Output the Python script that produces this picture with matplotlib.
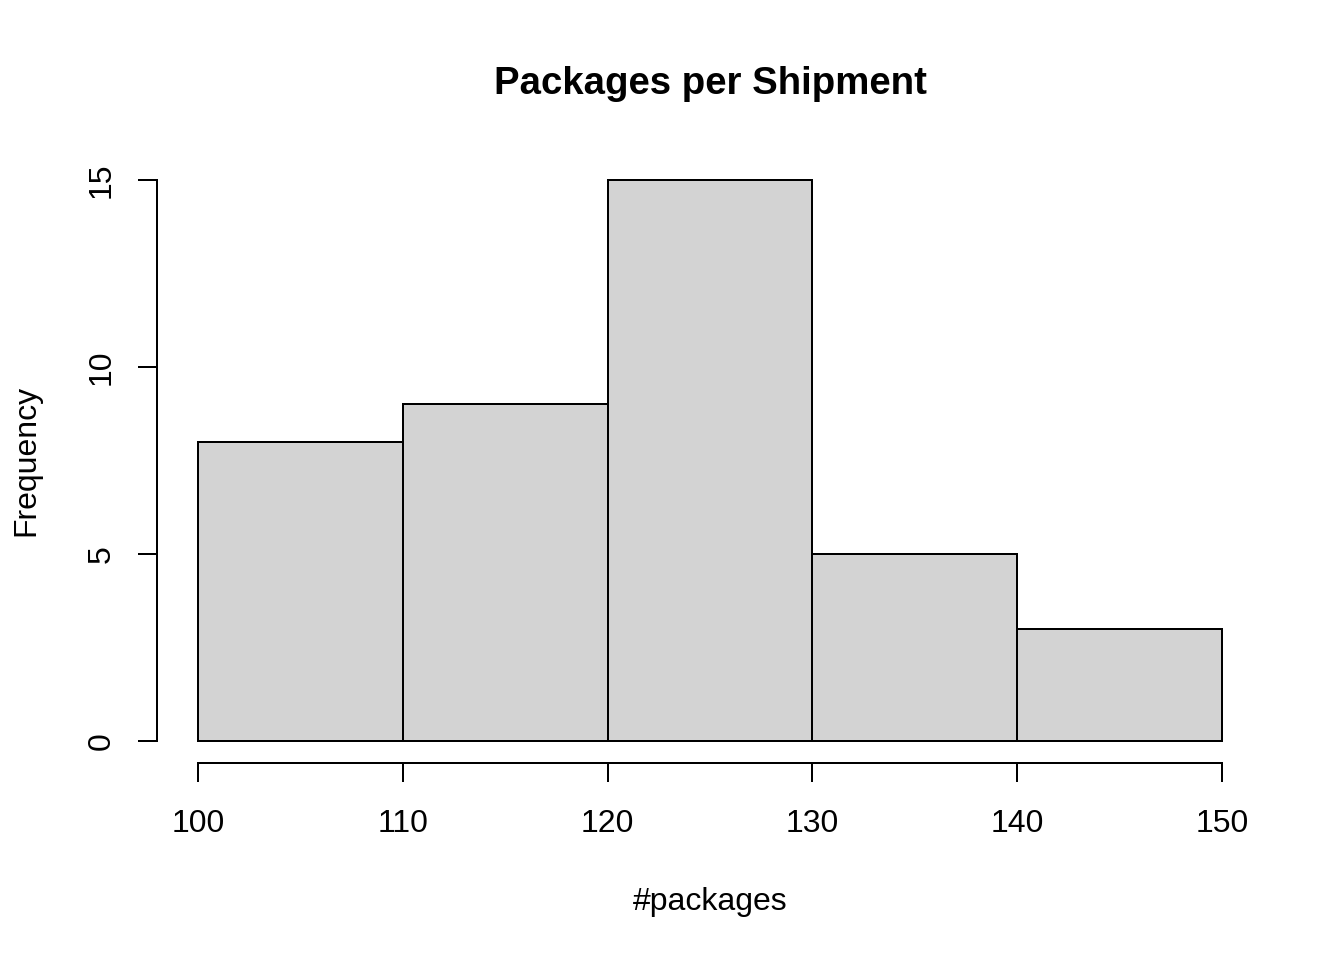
import matplotlib
matplotlib.use("Agg")
import numpy as np
import matplotlib.pyplot as plt

plt.rcParams['font.family'] = ['Liberation Sans', 'DejaVu Sans']

# Histogram data: bin edges and counts
bin_edges = [100, 110, 120, 130, 140, 150]
counts = [8, 9, 15, 5, 3]
x_ticks = [100, 110, 120, 130, 140, 150]
y_ticks = [0, 5, 10, 15]

fig = plt.figure(figsize=(7, 5), dpi=192)
ax = fig.add_axes([157 / 1344, 1 - 763.4 / 960, (1263 - 157) / 1344, (763.4 - 157.6) / 960])

widths = np.diff(bin_edges)
ax.bar(bin_edges[:-1], counts, width=widths, align='edge',
       color='#D3D3D3', edgecolor='black', linewidth=0.75)

ax.set_xlim(98, 152)
ax.set_ylim(-0.6, 15.6)

for s in ['top', 'right']:
    ax.spines[s].set_visible(False)
ax.spines['left'].set_bounds(0, 15)
ax.spines['bottom'].set_bounds(100, 150)
ax.spines['left'].set_linewidth(0.75)
ax.spines['bottom'].set_linewidth(0.75)

ax.set_xticks(x_ticks)
ax.set_yticks(y_ticks)
ax.tick_params(axis='both', direction='out', length=7.2, width=0.75, labelsize=12)
ax.tick_params(axis='x', pad=10)
ax.tick_params(axis='y', pad=8)
for lab in ax.get_yticklabels():
    lab.set_rotation(90)
    lab.set_va('center')

ax.set_xlabel('#packages', fontsize=12, labelpad=18)
ax.set_ylabel('Frequency', fontsize=12, labelpad=17)
ax.set_title('Packages per Shipment', fontsize=14.4, fontweight='bold', pad=24)

fig.savefig('out.png', dpi=192)
